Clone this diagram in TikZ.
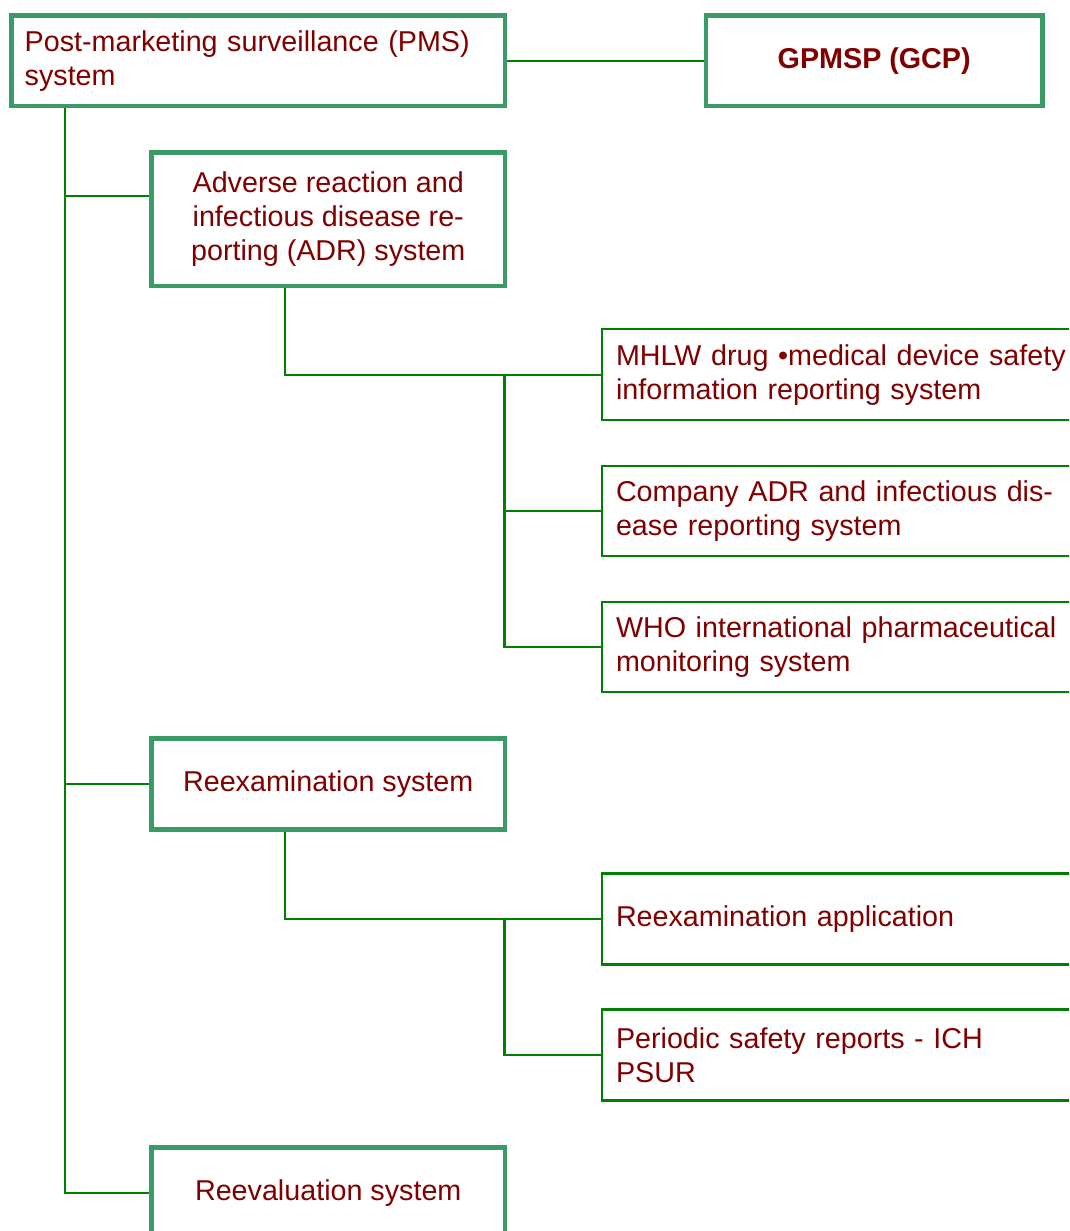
\documentclass[tikz,border=0pt]{standalone}
\usepackage{fontspec}
\setmainfont{Liberation Sans}
\usetikzlibrary{calc}
\definecolor{boxgreen}{HTML}{3A9B69}
\definecolor{linegreen}{HTML}{008000}
\definecolor{textred}{HTML}{800000}
\begin{document}
\begin{tikzpicture}[x=1pt,y=-1pt,
  txt/.style={font=\fontsize{28.7}{34}\selectfont, text=textred},
  mainbox/.style={txt, draw=boxgreen, line width=4.7pt, fill=white,
    rectangle, inner ysep=0pt},
  subbox/.style={txt, draw=linegreen, line width=2.2pt, fill=white,
    rectangle, minimum width=500pt, text width=472pt, inner xsep=14pt,
    inner ysep=0pt, align=left},
  link/.style={draw=linegreen, line width=2.2pt}]
\useasboundingbox (0,0) rectangle (1069,1231);
\clip (0,0) rectangle (1069,1231);

% top row
\node[mainbox, minimum width=493.3pt, minimum height=90.2pt,
      text width=467.3pt, inner xsep=13pt, align=left]
  (pms) at (258.35,60.9) {Post-marketing surveillance (PMS)\\system};
\node[mainbox, minimum width=336.7pt, minimum height=90.2pt,
      font=\fontsize{28.7}{34}\selectfont\bfseries]
  (gpmsp) at (874.2,60.9) {GPMSP (GCP)};

% second level
\node[mainbox, minimum width=353.5pt, minimum height=133.2pt, align=center]
  (adr) at (328.25,219.4)
  {Adverse reaction and\\infectious disease re-\\porting (ADR) system};
\node[mainbox, minimum width=353.5pt, minimum height=91.1pt]
  (reex) at (328.25,783.9) {Reexamination system};
\node[mainbox, minimum width=353.5pt, minimum height=91.1pt]
  (reev) at (328.25,1193) {Reevaluation system};

% third level
\node[subbox, minimum height=90.7pt] (mhlw) at (852,374.7)
  {MHLW drug \textbullet medical device safety\\information reporting system};
\node[subbox, minimum height=90.3pt] (company) at (852,510.9)
  {Company ADR and infectious dis-\\ease reporting system};
\node[subbox, minimum height=90pt] (who) at (852,646.7)
  {WHO international pharmaceutical\\monitoring system};
\node[subbox, minimum height=91pt] (reapp) at (852,919)
  {Reexamination application};
\node[subbox, minimum height=91pt] (psur) at (852,1055)
  {Periodic safety reports - ICH\\PSUR};

% connectors
\draw[link] (pms.east) -- (gpmsp.west);

\path (pms.south west) ++(55.7,0) coordinate (trunk);
\coordinate (adrtap) at ($(adr.north west)!0.33!(adr.south west)$);
\draw[link] (trunk) |- (reev.west);
\draw[link] (trunk |- adrtap) -- (adrtap);
\draw[link] (trunk |- reex.west) -- (reex.west);

\path (adr.south west) ++(135.8,0) coordinate (adrdrop);
\path (mhlw.west) ++(-96.5,0) coordinate (adrbus);
\draw[link] (adrdrop) |- (mhlw.west);
\draw[link] (adrbus) |- (who.west);
\draw[link] (adrbus |- company.west) -- (company.west);

\path (reex.south west) ++(135.8,0) coordinate (reexdrop);
\path (reapp.west) ++(-96.5,0) coordinate (reexbus);
\draw[link] (reexdrop) |- (reapp.west);
\draw[link] (reexbus) |- (psur.west);
\end{tikzpicture}
\end{document}
